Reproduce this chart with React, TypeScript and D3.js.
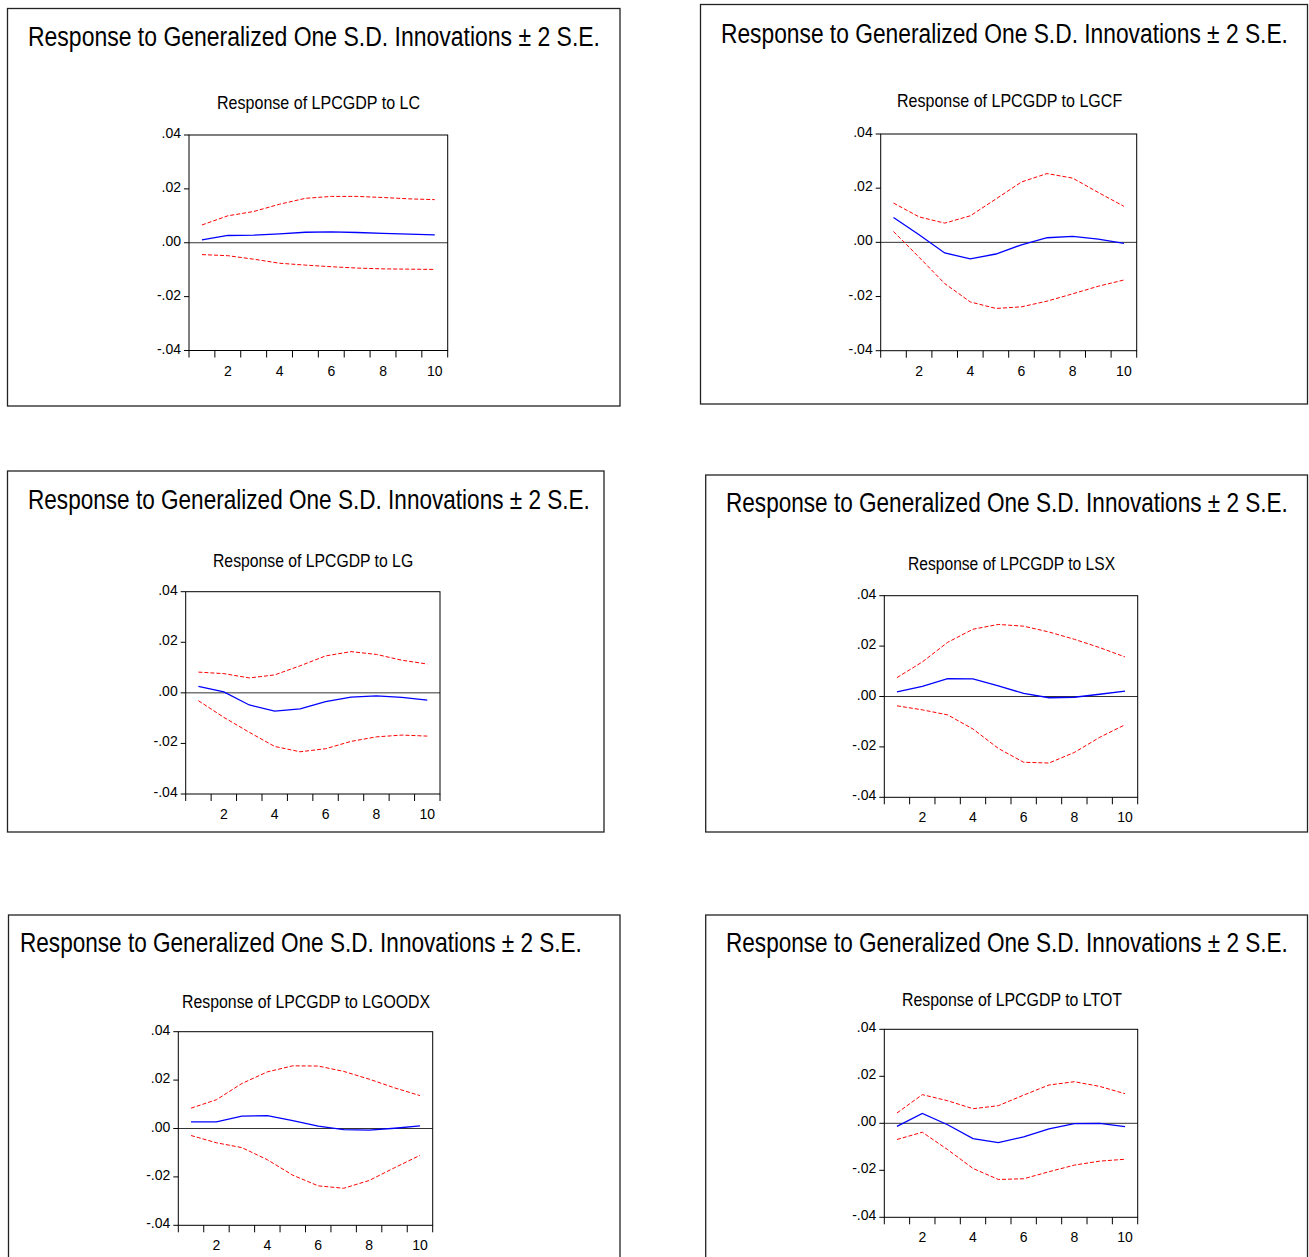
import React, { useLayoutEffect, useRef, useState } from "react";
import * as d3 from "d3";

// periods after the shock
const periods = [1, 2, 3, 4, 5, 6, 7, 8, 9, 10];
const xTickLabels = [2, 4, 6, 8, 10];
const yTicks = [0.04, 0.02, 0, -0.02, -0.04];
const yTickLabels = [".04", ".02", ".00", "-.02", "-.04"];

const mainTitle = "Response to Generalized One S.D. Innovations \u00b1 2 S.E.";
const shockNames = ["LC", "LGCF", "LG", "LSX", "LGOODX", "LTOT"];

// impulse responses (blue) and +/- 2 S.E. bands (red)
const respLC = [0.0011, 0.0027, 0.0028, 0.0033, 0.0039, 0.004, 0.0038, 0.0035, 0.0032, 0.0029];
const upperLC = [0.0066, 0.01, 0.0116, 0.0143, 0.0165, 0.0172, 0.0172, 0.0168, 0.0163, 0.016];
const lowerLC = [-0.0044, -0.0048, -0.0061, -0.0076, -0.0083, -0.0089, -0.0094, -0.0097, -0.0098, -0.0099];

const respLGCF = [0.0092, 0.0028, -0.0039, -0.0061, -0.0043, -0.0009, 0.0017, 0.0022, 0.0012, -0.0004];
const upperLGCF = [0.0145, 0.0094, 0.0071, 0.0098, 0.016, 0.0223, 0.0254, 0.0237, 0.0184, 0.0133];
const lowerLGCF = [0.004, -0.0055, -0.0152, -0.022, -0.0244, -0.0238, -0.0217, -0.019, -0.0162, -0.0139];

const respLG = [0.0026, 0.0004, -0.0048, -0.0072, -0.0063, -0.0035, -0.0017, -0.0012, -0.0018, -0.0029];
const upperLG = [0.0082, 0.0076, 0.0059, 0.0071, 0.0107, 0.0146, 0.0163, 0.0152, 0.0129, 0.0114];
const lowerLG = [-0.0031, -0.0097, -0.0156, -0.0212, -0.0233, -0.0221, -0.0192, -0.0174, -0.0167, -0.0171];

const respLSX = [0.0018, 0.004, 0.0071, 0.007, 0.0042, 0.0012, -0.0005, -0.0003, 0.0009, 0.0021];
const upperLSX = [0.0075, 0.0137, 0.0215, 0.0267, 0.0286, 0.0279, 0.0256, 0.0227, 0.0194, 0.0157];
const lowerLSX = [-0.0037, -0.0053, -0.0073, -0.0129, -0.0206, -0.0261, -0.0264, -0.0222, -0.0162, -0.0112];

const respLGOODX = [0.0027, 0.0027, 0.0051, 0.0053, 0.0033, 0.001, -0.0005, -0.0007, 0.0001, 0.0011];
const upperLGOODX = [0.0084, 0.0119, 0.0186, 0.0234, 0.0259, 0.0258, 0.0236, 0.0204, 0.0168, 0.0136];
const lowerLGOODX = [-0.0029, -0.0059, -0.0079, -0.0129, -0.0193, -0.0237, -0.0247, -0.0215, -0.0162, -0.0111];

const respLTOT = [-0.0013, 0.0042, -0.0006, -0.0065, -0.0082, -0.0058, -0.0024, -0.0001, 0, -0.0014];
const upperLTOT = [0.0044, 0.0122, 0.0096, 0.0062, 0.0075, 0.012, 0.0163, 0.0177, 0.0157, 0.0126];
const lowerLTOT = [-0.0069, -0.0038, -0.0112, -0.0192, -0.0239, -0.0236, -0.0206, -0.0178, -0.0161, -0.0153];

const responses = [respLC, respLGCF, respLG, respLSX, respLGOODX, respLTOT];
const uppers = [upperLC, upperLGCF, upperLG, upperLSX, upperLGOODX, upperLTOT];
const lowers = [lowerLC, lowerLGCF, lowerLG, lowerLSX, lowerLGOODX, lowerLTOT];

// where each EViews graph box sits on the page
const layout = [
  { box: [7.5, 8.5, 620, 406], title: [28, 46, 572], sub: [217, 109, 203], plot: [189, 447.7, 135, 350.5] },
  { box: [700.5, 4.5, 1307.5, 404], title: [721, 43, 567], sub: [897, 107, 225], plot: [880.7, 1136.7, 134, 350.7] },
  { box: [7.5, 471, 604, 832], title: [28, 509, 562], sub: [213, 567, 200], plot: [185.7, 440, 591.7, 794] },
  { box: [705.7, 475, 1307.5, 832], title: [726, 512, 562], sub: [908, 570, 207], plot: [884.3, 1137.7, 595.7, 797.3] },
  { box: [8.5, 915, 620, 1275], title: [20, 952, 562], sub: [182, 1008, 248], plot: [178.3, 432.7, 1031.7, 1225.3] },
  { box: [705.7, 915, 1307.5, 1275], title: [726, 952, 562], sub: [902, 1006, 220], plot: [884.3, 1137.7, 1029.3, 1217.3] },
];

const FONT = "'Liberation Sans Narrow', 'Arial Narrow', 'Liberation Sans', Arial, sans-serif";

// text squeezed horizontally to a given width (the original uses a narrow face)
const FitText = ({ x, y, width, size, children }) => {
  const ref = useRef(null);
  const [sx, setSx] = useState(0.85);
  useLayoutEffect(() => {
    if (ref.current) {
      const w = ref.current.getComputedTextLength();
      if (w > 0) setSx(width / w);
    }
  }, [width, children]);
  return (
    <g transform={`translate(${x},${y}) scale(${sx},1)`}>
      <text ref={ref} x={0} y={0} fontSize={size} fontFamily={FONT} fill="#000">
        {children}
      </text>
    </g>
  );
};

const Panel = ({ idx }) => {
  const L = layout[idx];
  const [bx0, by0, bx1, by1] = L.box;
  const [px0, px1, py0, py1] = L.plot;

  const x = d3.scaleLinear().domain([0.5, 10.5]).range([px0, px1]);
  const y = d3.scaleLinear().domain([-0.04, 0.04]).range([py1, py0]);

  const line = d3
    .line<number>()
    .x((d, i) => x(periods[i]))
    .y((d) => y(d));

  const bounds = d3.range(0.5, 11, 1);

  return (
    <g>
      <rect x={bx0} y={by0} width={bx1 - bx0} height={by1 - by0} fill="none" stroke="#222" strokeWidth={1.3} />
      <FitText x={L.title[0]} y={L.title[1]} width={L.title[2]} size={27}>
        {mainTitle}
      </FitText>
      <FitText x={L.sub[0]} y={L.sub[1]} width={L.sub[2]} size={18}>
        {`Response of LPCGDP to ${shockNames[idx]}`}
      </FitText>

      {/* zero line */}
      <line x1={px0} x2={px1} y1={y(0)} y2={y(0)} stroke="#333" strokeWidth={1} />

      <path d={line(uppers[idx])} fill="none" stroke="#ff0000" strokeWidth={1} strokeDasharray="4,2" />
      <path d={line(lowers[idx])} fill="none" stroke="#ff0000" strokeWidth={1} strokeDasharray="4,2" />
      <path d={line(responses[idx])} fill="none" stroke="#0000ff" strokeWidth={1.3} />

      <rect x={px0} y={py0} width={px1 - px0} height={py1 - py0} fill="none" stroke="#000" strokeWidth={1} />

      {/* x axis ticks at period boundaries */}
      {bounds.map((b) => (
        <line key={"xt" + b} x1={x(b)} x2={x(b)} y1={py1} y2={py1 + 7} stroke="#000" strokeWidth={1} />
      ))}
      {xTickLabels.map((p) => (
        <text key={"xl" + p} x={x(p)} y={py1 + 25} fontSize={14} textAnchor="middle" fontFamily={FONT} fill="#000">
          {p}
        </text>
      ))}

      {yTicks.map((v, i) => (
        <g key={"yt" + i}>
          <line x1={px0 - 5} x2={px0} y1={y(v)} y2={y(v)} stroke="#000" strokeWidth={1} />
          <text x={px0 - 8} y={y(v) + 3} fontSize={14} textAnchor="end" fontFamily={FONT} fill="#000">
            {yTickLabels[i]}
          </text>
        </g>
      ))}
    </g>
  );
};

export default function App() {
  return (
    <svg
      width={1309}
      height={1257}
      style={{ position: "absolute", left: 0, top: 0, background: "#fff" }}
    >
      <rect width={1309} height={1257} fill="#fff" />
      {layout.map((d, i) => (
        <Panel key={i} idx={i} />
      ))}
    </svg>
  );
}
